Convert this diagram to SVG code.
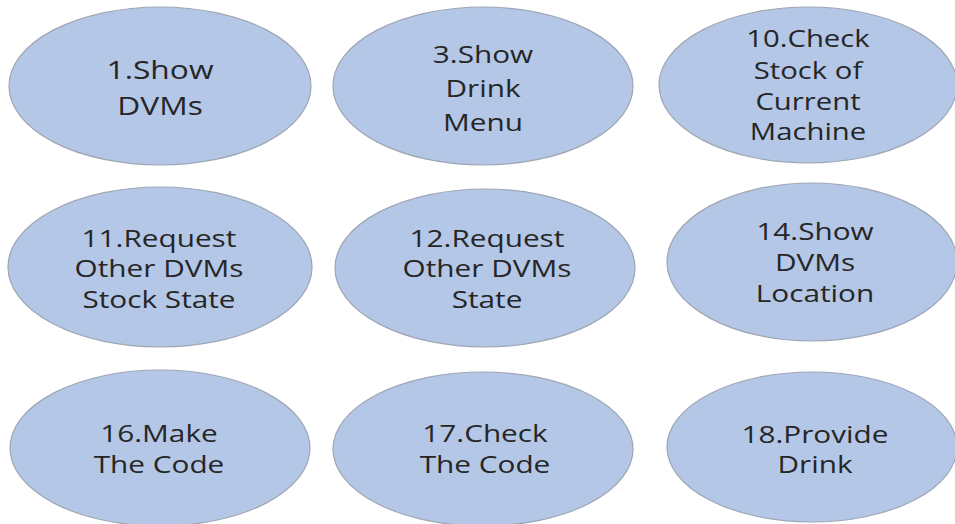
<svg xmlns="http://www.w3.org/2000/svg" width="955" height="524" viewBox="0 0 955 524">
<style>
.node ellipse{fill:#B4C7E7;stroke:#9EA6B3;stroke-width:1.2}
.node text{font-family:"Open Sans","Noto Sans","DejaVu Sans",sans-serif;font-size:24px;fill:#262626;text-anchor:middle}
</style>
<rect width="955" height="524" fill="#FFFFFF"/>
<g id="connectors"/>
<g id="n1" class="node">
<ellipse cx="160" cy="86" rx="151" ry="79"/>
<text transform="translate(160,0) scale(1.22,1)" style="font-size:26px"><tspan x="0" y="79">1.Show</tspan><tspan x="0" y="115">DVMs</tspan></text>
</g>
<g id="n3" class="node">
<ellipse cx="483" cy="86" rx="150" ry="79"/>
<text transform="translate(483,0) scale(1.24,1)"><tspan x="0" y="63">3.Show</tspan><tspan x="0" y="97">Drink</tspan><tspan x="0" y="131">Menu</tspan></text>
</g>
<g id="n10" class="node">
<ellipse cx="808" cy="85" rx="149" ry="78"/>
<text transform="translate(808,0) scale(1.22,1)"><tspan x="0" y="47">10.Check</tspan><tspan x="0" y="79">Stock of</tspan><tspan x="0" y="110">Current</tspan><tspan x="0" y="140">Machine</tspan></text>
</g>
<g id="n11" class="node">
<ellipse cx="160" cy="267" rx="152" ry="80"/>
<text transform="translate(159,0) scale(1.24,1)"><tspan x="0" y="247">11.Request</tspan><tspan x="0" y="277">Other DVMs</tspan><tspan x="0" y="308">Stock State</tspan></text>
</g>
<g id="n12" class="node">
<ellipse cx="485" cy="268" rx="150" ry="79"/>
<text transform="translate(487,0) scale(1.24,1)"><tspan x="0" y="247">12.Request</tspan><tspan x="0" y="277">Other DVMs</tspan><tspan x="0" y="308">State</tspan></text>
</g>
<g id="n14" class="node">
<ellipse cx="812" cy="262" rx="145" ry="79"/>
<text transform="translate(815,0) scale(1.24,1)"><tspan x="0" y="240">14.Show</tspan><tspan x="0" y="271">DVMs</tspan><tspan x="0" y="302">Location</tspan></text>
</g>
<g id="n16" class="node">
<ellipse cx="160" cy="448" rx="150" ry="78"/>
<text transform="translate(159,0) scale(1.24,1)"><tspan x="0" y="442">16.Make</tspan><tspan x="0" y="473">The Code</tspan></text>
</g>
<g id="n17" class="node">
<ellipse cx="483" cy="449" rx="150" ry="77"/>
<text transform="translate(485,0) scale(1.24,1)"><tspan x="0" y="442">17.Check</tspan><tspan x="0" y="473">The Code</tspan></text>
</g>
<g id="n18" class="node">
<ellipse cx="812" cy="447" rx="145" ry="75"/>
<text transform="translate(815,0) scale(1.24,1)"><tspan x="0" y="443">18.Provide</tspan><tspan x="0" y="473">Drink</tspan></text>
</g>
</svg>
